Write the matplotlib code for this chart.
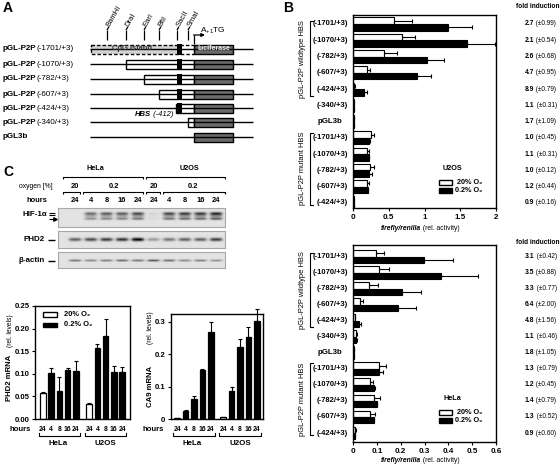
import numpy as np
import matplotlib
matplotlib.use('Agg')
import matplotlib.pyplot as plt
from matplotlib import transforms
from matplotlib.patches import Rectangle

plt.rcParams['font.family'] = ['Liberation Sans', 'DejaVu Sans']
plt.rcParams['mathtext.default'] = 'regular'
plt.rcParams['font.size'] = 5.5
plt.rcParams['axes.linewidth'] = 1.0

# ---------------- data ----------------
# Panel A: reporter constructs and restriction sites
a_names = ['(-1701/+3)', '(-1070/+3)', '(-782/+3)', '(-607/+3)', '(-424/+3)', '(-340/+3)']
a_sites = ['BamHI', 'DraI', 'EarI', 'BfiI', 'SacII', 'SmaI']

# Panel B: luciferase reporter activity
b_labels = ['(-1701/+3)', '(-1070/+3)', '(-782/+3)', '(-607/+3)', '(-424/+3)', '(-340/+3)',
            'pGL3b', '(-1701/+3)', '(-1070/+3)', '(-782/+3)', '(-607/+3)', '(-424/+3)']
u2os_norm = [0.57, 0.68, 0.44, 0.195, 0.02, 0.015, 0.01, 0.25, 0.20, 0.24, 0.19, 0.01]
u2os_norm_err = [0.25, 0.19, 0.17, 0.04, 0.005, 0.003, 0.002, 0.05, 0.02, 0.05, 0.03, 0.002]
u2os_hyp = [1.33, 1.60, 1.04, 0.89, 0.15, 0.015, 0.01, 0.22, 0.22, 0.22, 0.21, 0.01]
u2os_hyp_err = [0.33, 0.39, 0.23, 0.20, 0.05, 0.003, 0.002, 0.02, 0.01, 0.04, 0.005, 0.002]
u2os_fold = ['2.7', '2.1', '2.6', '4.7', '8.9', '1.1', '1.7', '1.0', '1.1', '1.0', '1.2', '0.9']
u2os_fold_sd = ['0.99', '0.54', '0.68', '0.95', '0.79', '0.31', '1.09', '0.45', '0.31', '0.12', '0.44', '0.16']

hela_norm = [0.097, 0.111, 0.069, 0.031, 0.007, 0.013, 0.003, 0.107, 0.070, 0.088, 0.072, 0.010]
hela_norm_err = [0.031, 0.040, 0.034, 0.011, 0.002, 0.003, 0.001, 0.030, 0.013, 0.024, 0.021, 0.002]
hela_hyp = [0.296, 0.370, 0.206, 0.190, 0.027, 0.013, 0.003, 0.110, 0.088, 0.100, 0.088, 0.007]
hela_hyp_err = [0.124, 0.154, 0.079, 0.075, 0.008, 0.002, 0.001, 0.015, 0.004, 0.002, 0.002, 0.001]
hela_fold = ['3.1', '3.5', '3.3', '6.4', '4.8', '1.1', '1.8', '1.3', '1.2', '1.4', '1.3', '0.9']
hela_fold_sd = ['0.42', '0.88', '0.77', '2.00', '1.56', '0.46', '1.05', '0.79', '0.45', '0.79', '0.52', '0.60']

# Panel C: immunoblots and mRNA
cells = ['HeLa', 'U2OS']
oxygen = ['20', '0.2', '20', '0.2']
hours = ['24', '4', '8', '16', '24', '24', '4', '8', '16', '24']
normoxic = [True, False, False, False, False, True, False, False, False, False]
hif_band = [0.0, 0.55, 0.62, 0.62, 0.72, 0.06, 0.72, 0.78, 0.78, 0.88]
phd2_band = [0.55, 0.65, 0.70, 0.75, 0.95, 0.30, 0.45, 0.55, 0.55, 0.70]
actin_band = [0.55, 0.45, 0.50, 0.60, 0.55, 0.70, 0.60, 0.45, 0.50, 0.40]
phd2_mrna = [0.057, 0.101, 0.061, 0.108, 0.106, 0.033, 0.158, 0.183, 0.103, 0.103]
phd2_err = [0.003, 0.012, 0.033, 0.005, 0.022, 0.002, 0.008, 0.039, 0.014, 0.013]
ca9_mrna = [0.002, 0.025, 0.063, 0.151, 0.270, 0.005, 0.087, 0.222, 0.253, 0.302]
ca9_err = [0.001, 0.003, 0.007, 0.002, 0.030, 0.002, 0.011, 0.024, 0.032, 0.036]

# ---------------- figure ----------------
W, H = 560, 468
fig = plt.figure(figsize=(5.6, 4.68), dpi=100)


def add_ax(l, t, r, b, **kw):
    return fig.add_axes([l / W, 1 - b / H, (r - l) / W, (b - t) / H], **kw)


ov = fig.add_axes([0, 0, 1, 1], zorder=10)
ov.set_xlim(0, W)
ov.set_ylim(H, 0)
ov.axis('off')


def txt(x, y, s, **kw):
    kw.setdefault('va', 'center')
    return ov.text(x, y, s, **kw)


def txt2(t, s, **kw):
    return ov.annotate(s, xy=(1, 0.5), xycoords=t, ha='left', va='center', **kw)


def line(xs, ys, **kw):
    kw.setdefault('color', 'black')
    kw.setdefault('lw', 0.8)
    ov.plot(xs, ys, solid_capstyle='butt', **kw)


# panel letters
for x, y, s in [(3, 8, 'A'), (283, 8, 'B'), (3, 172, 'C')]:
    txt(x, y, s, fontsize=10, fontweight='bold')

# ---------------- Panel A ----------------
rowsA = [49, 64, 79, 94, 108, 122, 137]
startA = [91, 126, 144, 159, 176, 188]
site_x = [107, 126, 144, 159, 177, 188]
L0, L1, LUC0, LUC1, HBS0, HBS1 = 90, 253, 194, 233, 177, 182
bh = 4.5
for i, y in enumerate(rowsA):
    if i < len(a_names):
        t = txt(3, y, 'pGL-P2P', fontsize=5.8, fontweight='bold')
        txt2(t, a_names[i], fontsize=5.8)
    else:
        txt(3, y, 'pGL3b', fontsize=5.8, fontweight='bold')
    line([L0, L1], [y, y], lw=1.0)
    if i == 0:
        ov.add_patch(Rectangle((startA[0], y - bh), HBS0 - startA[0], 2 * bh, fc='#d2d2d2', ec='none'))
        ov.add_patch(Rectangle((HBS1, y - bh), LUC0 - HBS1, 2 * bh, fc='white', ec='none'))
        ov.add_patch(Rectangle((startA[0], y - bh), LUC0 - startA[0], 2 * bh, fc='none', ec='black',
                               lw=1.0, ls=(0, (2.5, 1.5))))
        txt(132, y, 'CpG island', fontsize=5.5, fontweight='bold', color='#333333', ha='center')
    elif i < len(a_names):
        ov.add_patch(Rectangle((startA[i], y - bh), LUC0 - startA[i], 2 * bh, fc='white', ec='black', lw=1.0))
    if i < 5:
        ov.add_patch(Rectangle((HBS0, y - bh - 1), HBS1 - HBS0, 2 * bh + 2, fc='black', ec='none'))
    ov.add_patch(Rectangle((LUC0, y - bh), LUC1 - LUC0, 2 * bh, fc='#6b6b6b', ec='black', lw=1.0))
    if i == 0:
        txt((LUC0 + LUC1) / 2, y, 'luciferase', fontsize=5, fontweight='bold', color='#eeeeee', ha='center')

# restriction sites
for x, s in zip(site_x, a_sites):
    line([x, x], [40, 30], lw=0.9)
    line([x, x + 1.8], [30, 27], lw=0.9)
    ov.text(x + 1.5, 26.5, s, rotation=60, rotation_mode='anchor', ha='left', va='center', fontsize=5.5)
# transcription start arrow
line([LUC0, LUC0], [44, 35], lw=0.9)
ov.annotate('', xy=(205, 35), xytext=(LUC0 - 0.4, 35),
            arrowprops=dict(arrowstyle='-|>', lw=0.9, color='black', mutation_scale=5, shrinkA=0, shrinkB=0))
txt(200, 31, r'A$_{+1}$TG', fontsize=6)
t = txt(135, 115, 'HBS', fontsize=5.5, fontweight='bold', style='italic')
txt2(t, ' (-412)', fontsize=5.5, style='italic')


# ---------------- Panel B ----------------
def draw_B(top, bot, ylim, norm, nerr, hyp, herr, fold, sd, xmax, xticks, xtl,
           cell, header_y, xlab_y, leg_y, br_wt, br_mut):
    ax = add_ax(353, top, 496, bot)
    n = len(norm)
    y = np.arange(n)
    z = np.zeros(n)
    ax.barh(y - 0.2, norm, height=0.4, color='white', edgecolor='black', linewidth=0.8)
    ax.barh(y + 0.2, hyp, height=0.4, color='black', edgecolor='black', linewidth=0.8)
    ax.errorbar(norm, y - 0.2, xerr=[z, nerr], fmt='none', ecolor='black', elinewidth=0.8,
                capsize=1.5, capthick=0.8)
    ax.errorbar(hyp, y + 0.2, xerr=[z, herr], fmt='none', ecolor='black', elinewidth=0.8,
                capsize=1.5, capthick=0.8)
    ax.set_xlim(0, xmax)
    ax.set_ylim(*ylim)
    ax.set_yticks([])
    ax.set_xticks(xticks)
    ax.set_xticklabels(xtl, fontweight='bold', fontsize=5.8)
    ax.tick_params(axis='x', length=2.5, width=0.8, pad=1.5)
    tr = transforms.blended_transform_factory(ov.transData, ax.transData)
    for i, lab in enumerate(b_labels):
        if lab == 'pGL3b':
            ov.text(330, i, lab, transform=tr, ha='center', va='center', fontweight='bold', fontsize=5.7)
        else:
            ov.text(348, i, lab, transform=tr, ha='right', va='center', fontweight='bold', fontsize=5.5)
        t = ov.text(525, i, fold[i], transform=tr, ha='left', va='center', fontweight='bold', fontsize=4.9)
        txt2(t, ' (\u00b1' + sd[i] + ')', fontsize=4.7)
    for (y0, y1), lab in [(br_wt, 'pGL-P2P wildtype HBS'), (br_mut, 'pGL-P2P mutant HBS')]:
        ov.plot([313, 309.5, 309.5, 313], [y0, y0, y1, y1], transform=tr, color='black', lw=0.8)
        ov.text(303, (y0 + y1) / 2, lab, transform=tr, rotation=90, ha='center', va='center', fontsize=5.4)
    txt(559, header_y, 'fold induction', fontsize=4.7, fontweight='bold', ha='right')
    t = txt(381, xlab_y, 'firefly/renilla', fontsize=4.9, fontweight='bold', style='italic')
    txt2(t, ' (rel. activity)', fontsize=4.9)
    # legend
    txt(443, leg_y, cell, fontsize=5.2, fontweight='bold')
    ov.add_patch(Rectangle((439, leg_y + 12), 13, 5, fc='white', ec='black', lw=1.0))
    ov.add_patch(Rectangle((439, leg_y + 20), 13, 5, fc='black', ec='black', lw=1.0))
    txt(482, leg_y + 14.5, '20% O\u2082', fontsize=5.2, fontweight='bold', ha='right')
    txt(482, leg_y + 22.5, '0.2% O\u2082', fontsize=5.2, fontweight='bold', ha='right')
    return ax


draw_B(15, 208, (11.31, -0.553), u2os_norm, u2os_norm_err, u2os_hyp, u2os_hyp_err,
       u2os_fold, u2os_fold_sd, 2.0, [0, 0.5, 1, 1.5, 2], ['0', '0.5', '1', '1.5', '2'],
       'U2OS', 7, 229, 168, (-0.2, 4.45), (7 - 0.3, 11.1))
draw_B(245, 442, (11.56, -0.717), hela_norm, hela_norm_err, hela_hyp, hela_hyp_err,
       hela_fold, hela_fold_sd, 0.6, [0, 0.1, 0.2, 0.3, 0.4, 0.5, 0.6],
       ['0', '0.1', '0.2', '0.3', '0.4', '0.5', '0.6'],
       'HeLa', 243, 460, 398, (-0.2, 4.4), (7 - 0.35, 11.12))

# ---------------- Panel C: blots ----------------
lane_x = 75 + 15.7 * np.arange(len(hours))
BX0, BX1 = 58, 225


def blot(top, bot, bands, inten, lane_w=12.5):
    ax = add_ax(BX0, top, BX1, bot)
    xs = np.linspace(BX0, BX1, 500)
    ys = np.linspace(top, bot, 90)
    X, Y = np.meshgrid(xs, ys)
    img = np.full(X.shape, 0.89)
    for lx, a in zip(lane_x, inten):
        px = np.exp(-((X - lx) / (lane_w / 2)) ** 4)
        for yc, sy, sc in bands:
            img -= a * sc * px * np.exp(-((Y - yc) / sy) ** 2)
    img = np.clip(img, 0, 1)
    ax.imshow(img, cmap='gray', vmin=0, vmax=1, extent=(BX0, BX1, bot, top), aspect='auto',
              interpolation='bilinear')
    ax.set_xlim(BX0, BX1)
    ax.set_ylim(bot, top)
    ax.set_xticks([])
    ax.set_yticks([])
    for s in ax.spines.values():
        s.set_color('#a8a8a8')
        s.set_linewidth(0.8)
    return ax


blot(208, 227, [(213.6, 1.5, 0.85), (216.2, 1.6, 0.35), (218.8, 1.2, 0.6)], hif_band)
blot(231, 248, [(239.5, 1.7, 0.95)], phd2_band)
blot(252, 268, [(260.5, 1.0, 0.85)], actin_band)

txt(47, 215, 'HIF-1\u03b1', fontsize=5.8, fontweight='bold', ha='right')
line([49, 55], [212.6, 212.6])
line([49, 55], [214.6, 214.6])
line([49, 54], [218.8, 218.8])
ov.plot([54.5], [218.8], marker='>', ms=2.5, color='black')
txt(45, 239.5, 'PHD2', fontsize=5.8, fontweight='bold', ha='right')
line([48, 55], [239.5, 239.5], lw=1.0)
txt(45, 260.5, '\u03b2-actin', fontsize=5.8, fontweight='bold', ha='right')
line([48, 55], [260.5, 260.5], lw=1.0)

# header rows
txt(95, 169, cells[0], fontsize=5.2, fontweight='bold', ha='center')
txt(189, 169, cells[1], fontsize=5.2, fontweight='bold', ha='center')
for x0, x1 in [(63, 143), (146, 225)]:
    line([x0, x0, x1, x1], [179, 176.5, 176.5, 179])
txt(53, 186.5, 'oxygen [%]', fontsize=4.9, ha='right')
ox_groups = [(0, 0), (1, 4), (5, 5), (6, 9)]
for (a, b), s in zip(ox_groups, oxygen):
    txt((lane_x[a] + lane_x[b]) / 2, 186.5, s, fontsize=5.4, fontweight='bold', ha='center')
for x0, x1 in [(63, 80), (83, 143), (146, 160), (163, 225)]:
    line([x0, x0, x1, x1], [194, 192, 192, 194])
txt(47, 200.5, 'hours', fontsize=5.4, fontweight='bold', ha='right')
for x, s in zip(lane_x, hours):
    txt(x, 200.5, s, fontsize=5.4, fontweight='bold', ha='center')


# ---------------- Panel C: mRNA bars ----------------
def draw_C(l, t, r, b, vals, errs, gap, margin, ylim, yticks, ytl, ylab, ylab_x, ylab_y1, ylab_y2,
           hours_x, cell_x, br, legend=False):
    ax = add_ax(l, t, r, b)
    pos = np.r_[np.arange(5), np.arange(5) + gap]
    colors = ['white' if nm else 'black' for nm in normoxic]
    ax.bar(pos, vals, width=0.65, color=colors, edgecolor='black', linewidth=0.9)
    ax.errorbar(pos, vals, yerr=[np.zeros(len(vals)), errs], fmt='none', ecolor='black',
                elinewidth=0.8, capsize=1.5, capthick=0.8, clip_on=False)
    ax.set_xlim(-margin, pos[-1] + margin)
    ax.set_ylim(*ylim)
    ax.set_yticks(yticks)
    ax.set_yticklabels(ytl, fontweight='bold', fontsize=5.6)
    ax.tick_params(axis='y', length=2.5, width=0.8, pad=1.5)
    ax.set_xticks(pos)
    ax.set_xticklabels(hours, fontweight='bold', fontsize=4.9)
    ax.tick_params(axis='x', length=0, pad=5)
    txt(hours_x, 429.5, 'hours', fontsize=5.5, fontweight='bold', ha='center')
    tr = transforms.blended_transform_factory(ax.transData, ov.transData)
    for (a, bb), cx, s in zip([(0, 4), (5, 9)], cell_x, cells):
        x0, x1 = pos[a] - br, pos[bb] + br
        ov.plot([x0, x0, x1, x1], [433, 435.5, 435.5, 433], transform=tr, color='black', lw=0.8)
        txt(cx, 443.5, s, fontsize=5.7, fontweight='bold', ha='center')
    txt(ylab_x, ylab_y1, ylab, fontsize=5.6, fontweight='bold', rotation=90, ha='center')
    txt(ylab_x, ylab_y2, '(rel. levels)', fontsize=4.8, rotation=90, ha='center')
    if legend:
        ov.add_patch(Rectangle((43, 312), 14, 4.5, fc='white', ec='black', lw=1.0))
        ov.add_patch(Rectangle((43, 322.5), 14, 4.5, fc='black', ec='black', lw=1.0))
        txt(64, 314, '20% O\u2082', fontsize=5.4, fontweight='bold')
        txt(64, 325, '0.2% O\u2082', fontsize=5.4, fontweight='bold')
    return ax


draw_C(35, 306, 130, 419, phd2_mrna, phd2_err, 5.6, 0.96, (0, 0.25),
       [0, 0.05, 0.10, 0.15, 0.20, 0.25], ['0.00', '0.05', '0.10', '0.15', '0.20', '0.25'],
       'PHD2 mRNA', 10, 378, 331, 20, [58, 105], 0.45, legend=True)
draw_C(171, 314, 263, 419, ca9_mrna, ca9_err, 5.45, 0.72, (0, 0.324),
       [0, 0.1, 0.2, 0.3], ['0', '0.1', '0.2', '0.3'],
       'CA9 mRNA', 150, 386, 328, 153, [192, 240], 0.45)

fig.savefig('out.png', dpi=100)
